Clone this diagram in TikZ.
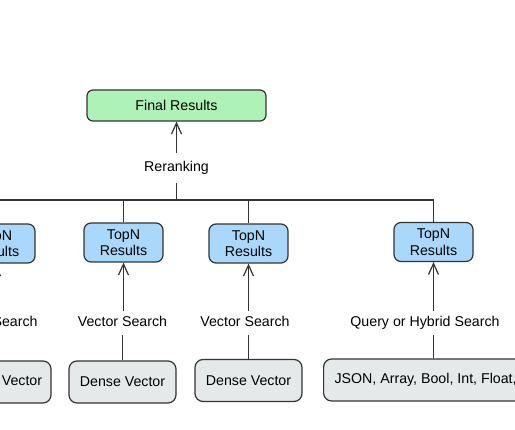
\documentclass[tikz,border=0pt]{standalone}
\usepackage{fontspec}
\setmainfont{Liberation Sans}
\usetikzlibrary{arrows.meta,positioning}
\definecolor{finalgreen}{HTML}{AEF2B8}
\definecolor{topblue}{HTML}{A9D8FA}
\definecolor{datagray}{HTML}{E5E9E9}
\definecolor{linegray}{HTML}{333333}
\begin{document}
\begin{tikzpicture}[
  x=1pt, y=-1pt,
  font=\fontsize{14.2}{16}\selectfont,
  line width=1.2pt,
  finalbox/.style = {
    rectangle, rounded corners=6pt,
    draw=linegray, fill=finalgreen,
    minimum width=179pt, minimum height=31pt, inner sep=0pt
  },
  topbox/.style = {
    rectangle, rounded corners=7pt,
    draw=linegray, fill=topblue, align=center,
    minimum width=79pt, minimum height=39pt, inner sep=0pt,
    font=\fontsize{14.2}{16.5}\selectfont
  },
  databox/.style = {
    rectangle, rounded corners=8pt,
    draw=linegray, fill=datagray,
    minimum width=107pt, minimum height=42pt, inner sep=0pt
  },
  lbl/.style = {
    text height=10pt, text depth=3pt, inner xsep=2pt, inner ysep=5pt
  },
  arrow/.style = {-{Straight Barb[length=11pt,width=10pt]}, linegray},
  link/.style  = {linegray},
]
\useasboundingbox (0,0) rectangle (515,430);
\clip (0,0) rectangle (515,430);

%% ---- Top: final results and reranking ----
\node[finalbox] (final) at (176.5,105.5) {Final Results};
\node[lbl, inner ysep=8pt] (rerank) at (176.5,168) {Reranking};
\coordinate (bus) at (176.5,200);
\draw[arrow] (rerank.north) -- (final.south);
\draw[link] (rerank.south) -- (bus);

%% ---- TopN result boxes ----
\node[topbox] (top1) at (-4.5,243.5) {TopN\\Results};
\node[topbox] (top2) at (123.5,242.5) {TopN\\Results};
\node[topbox] (top3) at (248.5,243.5) {TopN\\Results};
\node[topbox] (top4) at (433.5,242) {TopN\\Results};

%% ---- Bus to TopN boxes ----
\draw[link] (top1.north |- bus) -- (top4.north |- bus);
\foreach \t in {top1,top2,top3,top4}
  \draw[link] (\t.north |- bus) -- (\t.north);

%% ---- Search labels ----
\node[lbl] (srch1) at (-7,323) {Vector Search};
\node[lbl] (srch2) at (122.5,323) {Vector Search};
\node[lbl] (srch3) at (245,323) {Vector Search};
\node[lbl] (srch4) at (425,323) {Query or Hybrid Search};

%% ---- Data boxes ----
\node[databox] (data1) at (-2.5,382) {Sparse Vector};
\node[databox] (data2) at (122.5,382) {Dense Vector};
\node[databox] (data3) at (248.5,380.5) {Dense Vector};
\node[databox, anchor=west, inner xsep=11pt] (data4) at (323,380)
  {JSON, Array, Bool, Int, Float, String};

%% ---- Arrows up from searches ----
\foreach \i in {1,2,3} {
  \draw[arrow] (srch\i.north -| top\i.south) -- (top\i.south);
  \draw[link] (data\i.north) -- (data\i.north |- srch\i.south);
}
\draw[arrow] (srch4.north -| top4.south) -- (top4.south);
\draw[link] (data4.north -| top4.south) -- (srch4.south -| top4.south);

\end{tikzpicture}
\end{document}
